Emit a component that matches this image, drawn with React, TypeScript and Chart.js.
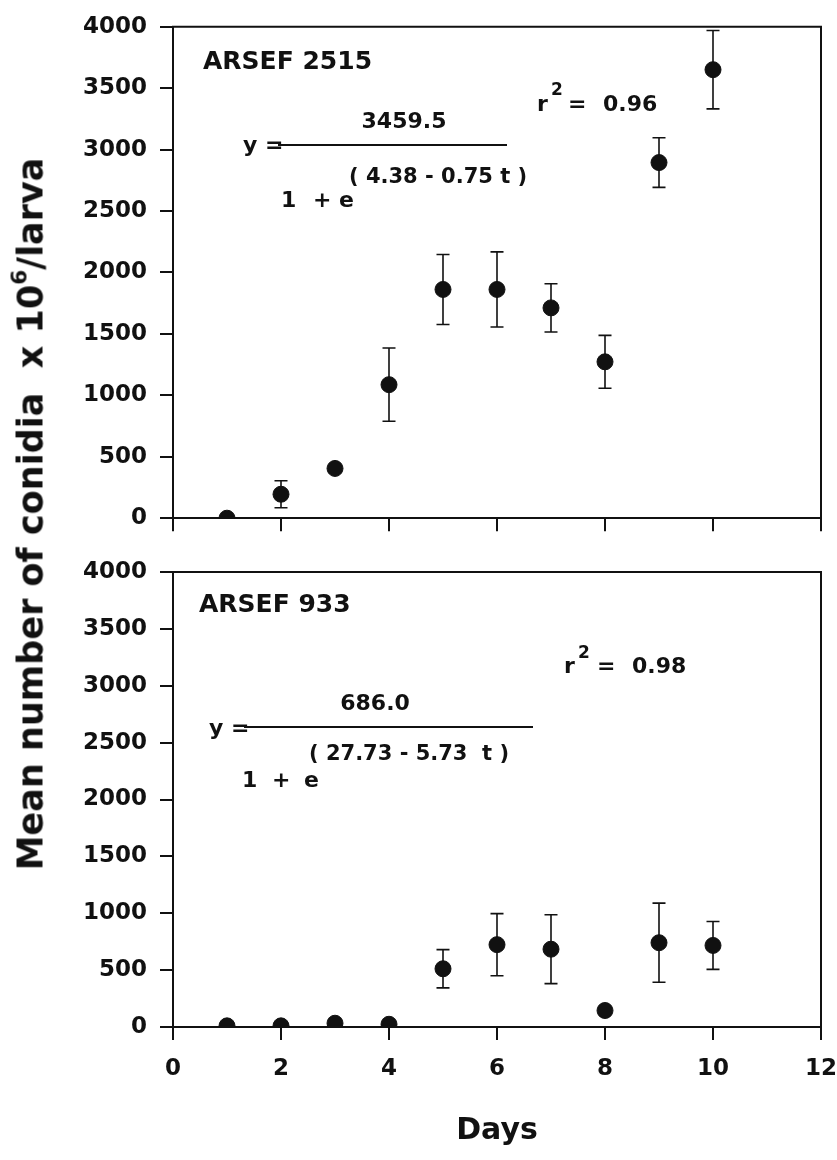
import React, { useEffect, useRef } from "react";
import { Chart, registerables } from "chart.js";

Chart.register(...registerables);

// ---- data ----
const days = [1, 2, 3, 4, 5, 6, 7, 8, 9, 10];
const mean2515 = [0, 195, 405, 1087, 1862, 1862, 1712, 1273, 2895, 3651];
const err2515 = [0, 110, 0, 298, 285, 306, 196, 215, 202, 319];
const mean933 = [10, 10, 33, 24, 512, 724, 684, 145, 741, 717];
const err933 = [0, 0, 0, 0, 168, 273, 303, 0, 348, 210];
const xMin = 0;
const xMax = 12;
const xStep = 2;
const yMin = 0;
const yMax = 4000;
const yStep = 500;
const xTitle = "Days";
const strainTop = "ARSEF 2515";
const strainBottom = "ARSEF 933";
const eqTop = { num: "3459.5", exp: "( 4.38 - 0.75 t )", r2: "0.96" };
const eqBottom = { num: "686.0", exp: "( 27.73 - 5.73  t )", r2: "0.98" };

const FONT = '"DejaVu Sans", "Liberation Sans", sans-serif';
const INK = "#111";

type TextItem = { t: string; x: number; y: number; size: number; align?: CanvasTextAlign };
type LineItem = { x1: number; x2: number; y: number };

const framePlugin = {
  id: "frame",
  afterDraw(chart: any) {
    const { ctx, chartArea } = chart;
    const { left, top, right, bottom } = chartArea;
    ctx.save();
    ctx.strokeStyle = INK;
    ctx.lineWidth = 2;
    ctx.beginPath();
    ctx.moveTo(left - 1, top);
    ctx.lineTo(right, top);
    ctx.lineTo(right, bottom);
    ctx.stroke();
    ctx.restore();
  },
};

function makeErrPlugin(means: number[], errs: number[]) {
  return {
    id: "errbars",
    beforeDatasetsDraw(chart: any) {
      const { ctx, scales } = chart;
      const x = scales.x;
      const y = scales.y;
      ctx.save();
      ctx.strokeStyle = INK;
      ctx.lineWidth = 1.6;
      days.forEach((d, i) => {
        const e = errs[i];
        if (!e) return;
        const px = x.getPixelForValue(d);
        const pt = y.getPixelForValue(means[i] + e);
        const pb = y.getPixelForValue(means[i] - e);
        ctx.beginPath();
        ctx.moveTo(px, pt);
        ctx.lineTo(px, pb);
        ctx.moveTo(px - 6.5, pt);
        ctx.lineTo(px + 6.5, pt);
        ctx.moveTo(px - 6.5, pb);
        ctx.lineTo(px + 6.5, pb);
        ctx.stroke();
      });
      ctx.restore();
    },
  };
}

function makeTextPlugin(texts: TextItem[], lines: LineItem[], offY: number) {
  return {
    id: "texts",
    afterDraw(chart: any) {
      const { ctx } = chart;
      ctx.save();
      ctx.fillStyle = INK;
      ctx.strokeStyle = INK;
      ctx.textBaseline = "alphabetic";
      texts.forEach((it) => {
        ctx.font = `bold ${it.size}px ${FONT}`;
        ctx.textAlign = it.align || "left";
        ctx.fillText(it.t, it.x, it.y - offY);
      });
      ctx.lineWidth = 2;
      lines.forEach((l) => {
        ctx.beginPath();
        ctx.moveTo(l.x1, l.y - offY);
        ctx.lineTo(l.x2, l.y - offY);
        ctx.stroke();
      });
      ctx.restore();
    },
  };
}

const topTexts: TextItem[] = [
  { t: strainTop, x: 203, y: 69, size: 25 },
  { t: "y =", x: 243, y: 152, size: 22 },
  { t: eqTop.num, x: 404, y: 128, size: 22, align: "center" },
  { t: eqTop.exp, x: 349, y: 183, size: 21 },
  { t: "1", x: 281, y: 207, size: 22 },
  { t: "+", x: 313, y: 207, size: 22 },
  { t: "e", x: 339, y: 207, size: 22 },
  { t: "r", x: 537, y: 111, size: 22 },
  { t: "2", x: 551, y: 95, size: 17 },
  { t: "=", x: 568, y: 111, size: 22 },
  { t: eqTop.r2, x: 603, y: 111, size: 22 },
];
const topLines: LineItem[] = [{ x1: 278, x2: 507, y: 145 }];

const botTexts: TextItem[] = [
  { t: strainBottom, x: 199, y: 612, size: 25 },
  { t: "y =", x: 209, y: 735, size: 22 },
  { t: eqBottom.num, x: 375, y: 710, size: 22, align: "center" },
  { t: eqBottom.exp, x: 309, y: 760, size: 21 },
  { t: "1", x: 242, y: 787, size: 22 },
  { t: "+", x: 272, y: 787, size: 22 },
  { t: "e", x: 304, y: 787, size: 22 },
  { t: "r", x: 564, y: 673, size: 22 },
  { t: "2", x: 578, y: 658, size: 17 },
  { t: "=", x: 597, y: 673, size: 22 },
  { t: eqBottom.r2, x: 632, y: 673, size: 22 },
];
const botLines: LineItem[] = [{ x1: 244, x2: 533, y: 727 }];

const TOP_H = 545;
const BOT_H = 1160 - TOP_H;

function buildChart(
  canvas: HTMLCanvasElement,
  means: number[],
  errs: number[],
  padTop: number,
  xHeight: number,
  showXLabels: boolean,
  texts: TextItem[],
  lines: LineItem[],
  offY: number
) {
  const tickFont = { family: FONT, size: 23, weight: "bold" as const };
  const grid = {
    drawOnChartArea: false,
    drawTicks: true,
    tickLength: 13,
    lineWidth: 2,
    color: INK,
    tickColor: INK,
  };
  const border = { display: true, width: 2, color: INK };
  return new Chart(canvas, {
    type: "scatter",
    data: {
      datasets: [
        {
          data: days.map((d, i) => ({ x: d, y: means[i] })),
          pointRadius: 8,
          pointHoverRadius: 8,
          backgroundColor: INK,
          borderColor: INK,
          borderWidth: 1,
          showLine: false,
        },
      ],
    },
    options: {
      responsive: false,
      animation: false,
      events: [],
      layout: { padding: { left: 0, right: 16, top: padTop, bottom: 0 } },
      plugins: { legend: { display: false }, tooltip: { enabled: false } },
      scales: {
        x: {
          type: "linear",
          position: "bottom",
          min: xMin,
          max: xMax,
          ticks: {
            stepSize: xStep,
            display: showXLabels,
            padding: 15,
            color: INK,
            font: tickFont,
            maxRotation: 0,
            autoSkip: false,
            callback: (v: any) => String(v),
          },
          grid,
          border,
          title: showXLabels
            ? {
                display: true,
                text: xTitle,
                color: INK,
                font: { family: FONT, size: 30, weight: "bold" },
                padding: { top: 0, bottom: 11 },
              }
            : { display: false },
          afterFit: (s: any) => {
            s.height = xHeight;
            s.paddingLeft = 0;
            s.paddingRight = 0;
          },
        },
        y: {
          type: "linear",
          min: yMin,
          max: yMax,
          ticks: {
            stepSize: yStep,
            padding: 13,
            color: INK,
            font: tickFont,
            callback: (v: any) => String(v),
          },
          grid,
          border,
          afterFit: (s: any) => {
            s.width = 173;
          },
        },
      },
    } as any,
    plugins: [framePlugin, makeErrPlugin(means, errs), makeTextPlugin(texts, lines, offY)],
  });
}

export default function App() {
  const topRef = useRef<HTMLCanvasElement>(null);
  const botRef = useRef<HTMLCanvasElement>(null);

  useEffect(() => {
    if (!topRef.current || !botRef.current) return;
    const c1 = buildChart(topRef.current, mean2515, err2515, 24, TOP_H - 519, false, topTexts, topLines, 0);
    const c2 = buildChart(botRef.current, mean933, err933, 572 - TOP_H, BOT_H - (1027 - TOP_H), true, botTexts, botLines, TOP_H);
    return () => {
      c1.destroy();
      c2.destroy();
    };
  }, []);

  return (
    <div style={{ position: "absolute", left: 0, top: 0, width: 837, height: 1160, background: "#fff", overflow: "hidden" }}>
      <canvas ref={topRef} width={837} height={TOP_H} style={{ position: "absolute", left: 0, top: 0 }} />
      <canvas ref={botRef} width={837} height={BOT_H} style={{ position: "absolute", left: 0, top: TOP_H }} />
      <div
        style={{
          position: "absolute",
          left: 31,
          top: 514,
          transform: "translate(-50%, -50%) rotate(-90deg)",
          whiteSpace: "nowrap",
          font: `bold 35px ${FONT}`,
          color: INK,
          lineHeight: 1,
        }}
      >
        Mean number of conidia&nbsp; x 10
        <span style={{ fontSize: "0.62em", position: "relative", top: "-0.75em" }}>6</span>/larva
      </div>
    </div>
  );
}
